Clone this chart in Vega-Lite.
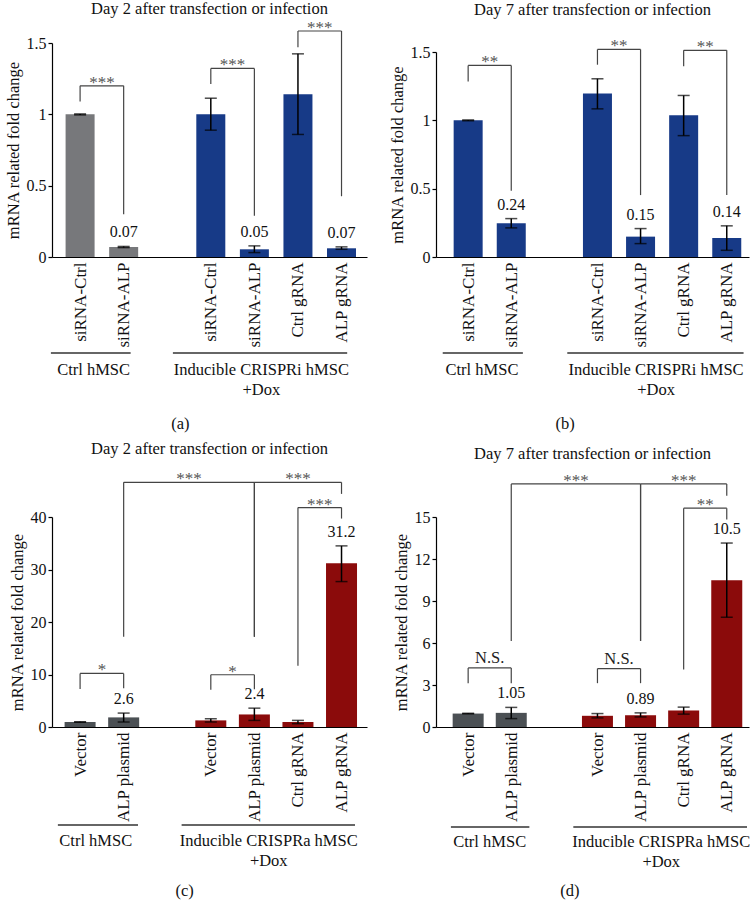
{
  "$schema": "https://vega.github.io/schema/vega-lite/v6.json",
  "padding": {"left": 5, "top": 0, "right": 0, "bottom": 0},
  "columns": 2,
  "spacing": {"row": 260, "column": 69},
  "bounds": "flush",
  "resolve": {"scale": {"color": "independent"}},
  "config": {
    "font": "Liberation Serif",
    "view": {"stroke": null},
    "axis": {"grid": false, "domainColor": "#000", "tickColor": "#000", "labelColor": "#111", "titleColor": "#111", "labelFont": "Liberation Serif", "titleFont": "Liberation Serif", "labelFontSize": 16, "titleFontSize": 16.5, "titleFontWeight": "normal", "domainWidth": 1.2, "tickWidth": 1.2},
    "title": {"font": "Liberation Serif", "fontSize": 16.5, "fontWeight": "normal", "color": "#111"},
    "text": {"font": "Liberation Serif"}
  },
  "datasets": {
    "bars_a": [
      {"slot": 1, "name": "siRNA-Ctrl", "cells": "Ctrl hMSC", "value": 1.0, "lo": 0.996, "hi": 1.003, "lab": ""},
      {"slot": 2, "name": "siRNA-ALP", "cells": "Ctrl hMSC", "value": 0.07, "lo": 0.066, "hi": 0.074, "lab": "0.07"},
      {"slot": 4, "name": "siRNA-Ctrl", "cells": "Inducible", "value": 1.0, "lo": 0.889, "hi": 1.113, "lab": ""},
      {"slot": 5, "name": "siRNA-ALP", "cells": "Inducible", "value": 0.054, "lo": 0.031, "hi": 0.078, "lab": "0.05"},
      {"slot": 6, "name": "Ctrl gRNA", "cells": "Inducible", "value": 1.141, "lo": 0.859, "hi": 1.424, "lab": ""},
      {"slot": 7, "name": "ALP gRNA", "cells": "Inducible", "value": 0.061, "lo": 0.054, "hi": 0.071, "lab": "0.07"}
    ],
    "br_a": [
      {"xa": 1, "xb": 2, "xm": 1.5, "top": 1.2, "lb": 1.09, "rb": 0.3, "sig": "***"},
      {"xa": 4, "xb": 5, "xm": 4.5, "top": 1.322, "lb": 1.212, "rb": 0.289, "sig": "***"},
      {"xa": 6, "xb": 7, "xm": 6.5, "top": 1.584, "lb": 1.47, "rb": 0.426, "sig": "***"}
    ],
    "grp_a": [
      {"x0": 0.33, "x1": 2.16, "xt": 1.31, "txt": "Ctrl hMSC"},
      {"x0": 3.13, "x1": 7.13, "xt": 5.16, "txt": "Inducible CRISPRi hMSC\n+Dox"}
    ],
    "bars_b": [
      {"slot": 1, "name": "siRNA-Ctrl", "cells": "Ctrl hMSC", "value": 1.0, "lo": 0.997, "hi": 1.003, "lab": ""},
      {"slot": 2, "name": "siRNA-ALP", "cells": "Ctrl hMSC", "value": 0.247, "lo": 0.213, "hi": 0.281, "lab": "0.24"},
      {"slot": 4, "name": "siRNA-Ctrl", "cells": "Inducible", "value": 1.196, "lo": 1.084, "hi": 1.304, "lab": ""},
      {"slot": 5, "name": "siRNA-ALP", "cells": "Inducible", "value": 0.149, "lo": 0.098, "hi": 0.208, "lab": "0.15"},
      {"slot": 6, "name": "Ctrl gRNA", "cells": "Inducible", "value": 1.037, "lo": 0.888, "hi": 1.182, "lab": ""},
      {"slot": 7, "name": "ALP gRNA", "cells": "Inducible", "value": 0.139, "lo": 0.049, "hi": 0.228, "lab": "0.14"}
    ],
    "br_b": [
      {"xa": 1, "xb": 2, "xm": 1.5, "top": 1.402, "lb": 1.285, "rb": 0.484, "sig": "**"},
      {"xa": 4, "xb": 5, "xm": 4.5, "top": 1.519, "lb": 1.407, "rb": 0.453, "sig": "**"},
      {"xa": 6, "xb": 7, "xm": 6.5, "top": 1.512, "lb": 1.395, "rb": 0.453, "sig": "**"}
    ],
    "grp_b": [
      {"x0": 0.41, "x1": 2.27, "xt": 1.32, "txt": "Ctrl hMSC"},
      {"x0": 3.3, "x1": 7.39, "xt": 5.36, "txt": "Inducible CRISPRi hMSC\n+Dox"}
    ],
    "bars_c": [
      {"slot": 1, "name": "Vector", "cells": "Ctrl hMSC", "value": 0.95, "lo": 0.9, "hi": 1.0, "lab": ""},
      {"slot": 2, "name": "ALP plasmid", "cells": "Ctrl hMSC", "value": 1.83, "lo": 0.95, "hi": 2.65, "lab": "2.6"},
      {"slot": 4, "name": "Vector", "cells": "Inducible", "value": 1.26, "lo": 0.95, "hi": 1.57, "lab": ""},
      {"slot": 5, "name": "ALP plasmid", "cells": "Inducible", "value": 2.39, "lo": 1.26, "hi": 3.59, "lab": "2.4"},
      {"slot": 6, "name": "Ctrl gRNA", "cells": "Inducible", "value": 0.94, "lo": 0.63, "hi": 1.26, "lab": ""},
      {"slot": 7, "name": "ALP gRNA", "cells": "Inducible", "value": 31.18, "lo": 27.7, "hi": 34.5, "lab": "31.2"}
    ],
    "br_c": [
      {"xa": 1, "xb": 2, "xm": 1.5, "top": 10.2, "lb": 7.24, "rb": 7.37, "sig": "*"},
      {"xa": 4, "xb": 5, "xm": 4.5, "top": 9.95, "lb": 7.1, "rb": 7.2, "sig": "*"},
      {"xa": 6, "xb": 7, "xm": 6.5, "top": 41.8, "lb": 11.65, "rb": 39.7, "sig": "***"},
      {"xa": 2, "xb": 5, "xm": 3.5, "top": 46.6, "lb": 17.2, "rb": 17.2, "sig": "***"},
      {"xa": 5, "xb": 7, "xm": 6, "top": 46.6, "lb": 17.2, "rb": 44.4, "sig": "***"}
    ],
    "grp_c": [
      {"x0": 0.49, "x1": 2.33, "xt": 1.36, "txt": "Ctrl hMSC"},
      {"x0": 3.33, "x1": 7.31, "xt": 5.33, "txt": "Inducible CRISPRa hMSC\n+Dox"}
    ],
    "bars_d": [
      {"slot": 1, "name": "Vector", "cells": "Ctrl hMSC", "value": 0.96, "lo": 0.94, "hi": 0.98, "lab": ""},
      {"slot": 2, "name": "ALP plasmid", "cells": "Ctrl hMSC", "value": 1.01, "lo": 0.6, "hi": 1.4, "lab": "1.05"},
      {"slot": 4, "name": "Vector", "cells": "Inducible", "value": 0.8, "lo": 0.65, "hi": 0.96, "lab": ""},
      {"slot": 5, "name": "ALP plasmid", "cells": "Inducible", "value": 0.84, "lo": 0.72, "hi": 1.01, "lab": "0.89"},
      {"slot": 6, "name": "Ctrl gRNA", "cells": "Inducible", "value": 1.18, "lo": 0.92, "hi": 1.42, "lab": ""},
      {"slot": 7, "name": "ALP gRNA", "cells": "Inducible", "value": 10.49, "lo": 7.84, "hi": 13.14, "lab": "10.5"}
    ],
    "br_d": [
      {"xa": 1, "xb": 2, "xm": 1.5, "top": 4.22, "lb": 3.13, "rb": 3.13, "sig": "N.S."},
      {"xa": 4, "xb": 5, "xm": 4.5, "top": 4.17, "lb": 3.13, "rb": 3.13, "sig": "N.S."},
      {"xa": 6, "xb": 7, "xm": 6.5, "top": 15.63, "lb": 4.1, "rb": 14.83, "sig": "**"},
      {"xa": 2, "xb": 5, "xm": 3.5, "top": 17.36, "lb": 6.15, "rb": 6.15, "sig": "***"},
      {"xa": 5, "xb": 7, "xm": 6, "top": 17.36, "lb": 6.15, "rb": 16.52, "sig": "***"}
    ],
    "grp_d": [
      {"x0": 0.6, "x1": 2.42, "xt": 1.5, "txt": "Ctrl hMSC"},
      {"x0": 3.44, "x1": 7.47, "xt": 5.48, "txt": "Inducible CRISPRa hMSC\n+Dox"}
    ]
  },
  "concat": [
    {
      "width": 315, "height": 214,
      "title": {"text": "Day 2 after transfection or infection", "offset": 2},
      "layer": [
        {"data": {"name": "bars_a"}, "mark": {"type": "bar", "size": 29},
         "encoding": {
           "x": {"field": "slot", "type": "quantitative", "scale": {"domain": [0.47, 7.47], "nice": false, "zero": false}, "axis": {"values": [1, 2, 4, 5, 6, 7], "labelExpr": "datum.value == 1 || datum.value == 4 ? 'siRNA-Ctrl' : datum.value == 2 || datum.value == 5 ? 'siRNA-ALP' : datum.value == 6 ? 'Ctrl gRNA' : 'ALP gRNA'", "labelAngle": 270, "labelFontSize": 17, "ticks": false, "title": null, "labelPadding": 5, "labelFlush": false, "labelOverlap": false}},
           "y": {"field": "value", "type": "quantitative", "scale": {"domain": [0, 1.5], "nice": false}, "axis": {"values": [0, 0.5, 1, 1.5], "format": "~g", "title": "mRNA related fold change", "tickSize": 4, "labelPadding": 2, "titlePadding": 5}},
           "color": {"field": "cells", "type": "nominal", "scale": {"domain": ["Ctrl hMSC", "Inducible"], "range": ["#77787b", "#173a87"]}, "legend": null}
         }},
        {"data": {"name": "bars_a"}, "mark": {"type": "rule", "color": "#000", "strokeWidth": 1.5},
         "encoding": {"x": {"field": "slot", "type": "quantitative"}, "y": {"field": "lo", "type": "quantitative"}, "y2": {"field": "hi"}}},
        {"data": {"name": "bars_a"}, "mark": {"type": "tick", "orient": "horizontal", "size": 12, "thickness": 1.5, "color": "#000"},
         "encoding": {"x": {"field": "slot", "type": "quantitative"}, "y": {"field": "lo", "type": "quantitative"}}},
        {"data": {"name": "bars_a"}, "mark": {"type": "tick", "orient": "horizontal", "size": 12, "thickness": 1.5, "color": "#000"},
         "encoding": {"x": {"field": "slot", "type": "quantitative"}, "y": {"field": "hi", "type": "quantitative"}}},
        {"data": {"name": "bars_a"}, "mark": {"type": "text", "baseline": "middle", "dy": -14, "fontSize": 16, "color": "#111"},
         "encoding": {"x": {"field": "slot", "type": "quantitative"}, "y": {"field": "hi", "type": "quantitative"}, "text": {"field": "lab"}}},
        {"data": {"name": "br_a"}, "mark": {"type": "rule", "color": "#444", "strokeWidth": 1.2},
         "encoding": {"x": {"field": "xa", "type": "quantitative"}, "x2": {"field": "xb"}, "y": {"field": "top", "type": "quantitative"}}},
        {"data": {"name": "br_a"}, "mark": {"type": "rule", "color": "#444", "strokeWidth": 1.2},
         "encoding": {"x": {"field": "xa", "type": "quantitative"}, "y": {"field": "top", "type": "quantitative"}, "y2": {"field": "lb"}}},
        {"data": {"name": "br_a"}, "mark": {"type": "rule", "color": "#444", "strokeWidth": 1.2},
         "encoding": {"x": {"field": "xb", "type": "quantitative"}, "y": {"field": "top", "type": "quantitative"}, "y2": {"field": "rb"}}},
        {"data": {"name": "br_a"}, "mark": {"type": "text", "baseline": "middle", "dy": -3, "fontSize": 17, "color": "#555"},
         "encoding": {"x": {"field": "xm", "type": "quantitative"}, "y": {"field": "top", "type": "quantitative"}, "text": {"field": "sig"}}},
        {"data": {"name": "grp_a"}, "mark": {"type": "rule", "color": "#333", "strokeWidth": 1.5, "yOffset": 96},
         "encoding": {"x": {"field": "x0", "type": "quantitative"}, "x2": {"field": "x1"}, "y": {"datum": 0}}},
        {"data": {"name": "grp_a"}, "mark": {"type": "text", "baseline": "top", "align": "center", "dy": 105, "fontSize": 16.5, "lineBreak": "\n", "lineHeight": 20, "color": "#111"},
         "encoding": {"x": {"field": "xt", "type": "quantitative"}, "y": {"datum": 0}, "text": {"field": "txt"}}},
        {"data": {"values": [{"x": 3.3, "txt": "(a)"}]}, "mark": {"type": "text", "baseline": "middle", "dy": 167, "fontSize": 16.5, "color": "#111"},
         "encoding": {"x": {"field": "x", "type": "quantitative"}, "y": {"datum": 0}, "text": {"field": "txt"}}}
      ]
    },
    {
      "width": 313, "height": 214,
      "title": {"text": "Day 7 after transfection or infection", "offset": 19},
      "layer": [
        {"data": {"name": "bars_b"}, "mark": {"type": "bar", "size": 29},
         "encoding": {
           "x": {"field": "slot", "type": "quantitative", "scale": {"domain": [0.37, 7.4], "nice": false, "zero": false}, "axis": {"values": [1, 2, 4, 5, 6, 7], "labelExpr": "datum.value == 1 || datum.value == 4 ? 'siRNA-Ctrl' : datum.value == 2 || datum.value == 5 ? 'siRNA-ALP' : datum.value == 6 ? 'Ctrl gRNA' : 'ALP gRNA'", "labelAngle": 270, "labelFontSize": 17, "ticks": false, "title": null, "labelPadding": 5, "labelFlush": false, "labelOverlap": false}},
           "y": {"field": "value", "type": "quantitative", "scale": {"domain": [0, 1.5], "nice": false, "range": [214, 9]}, "axis": {"values": [0, 0.5, 1, 1.5], "format": "~g", "title": "mRNA related fold change", "tickSize": 4, "labelPadding": 2, "titlePadding": 5}},
           "color": {"field": "cells", "type": "nominal", "scale": {"domain": ["Ctrl hMSC", "Inducible"], "range": ["#173a87", "#173a87"]}, "legend": null}
         }},
        {"data": {"name": "bars_b"}, "mark": {"type": "rule", "color": "#000", "strokeWidth": 1.5},
         "encoding": {"x": {"field": "slot", "type": "quantitative"}, "y": {"field": "lo", "type": "quantitative"}, "y2": {"field": "hi"}}},
        {"data": {"name": "bars_b"}, "mark": {"type": "tick", "orient": "horizontal", "size": 12, "thickness": 1.5, "color": "#000"},
         "encoding": {"x": {"field": "slot", "type": "quantitative"}, "y": {"field": "lo", "type": "quantitative"}}},
        {"data": {"name": "bars_b"}, "mark": {"type": "tick", "orient": "horizontal", "size": 12, "thickness": 1.5, "color": "#000"},
         "encoding": {"x": {"field": "slot", "type": "quantitative"}, "y": {"field": "hi", "type": "quantitative"}}},
        {"data": {"name": "bars_b"}, "mark": {"type": "text", "baseline": "middle", "dy": -14, "fontSize": 16, "color": "#111"},
         "encoding": {"x": {"field": "slot", "type": "quantitative"}, "y": {"field": "hi", "type": "quantitative"}, "text": {"field": "lab"}}},
        {"data": {"name": "br_b"}, "mark": {"type": "rule", "color": "#444", "strokeWidth": 1.2},
         "encoding": {"x": {"field": "xa", "type": "quantitative"}, "x2": {"field": "xb"}, "y": {"field": "top", "type": "quantitative"}}},
        {"data": {"name": "br_b"}, "mark": {"type": "rule", "color": "#444", "strokeWidth": 1.2},
         "encoding": {"x": {"field": "xa", "type": "quantitative"}, "y": {"field": "top", "type": "quantitative"}, "y2": {"field": "lb"}}},
        {"data": {"name": "br_b"}, "mark": {"type": "rule", "color": "#444", "strokeWidth": 1.2},
         "encoding": {"x": {"field": "xb", "type": "quantitative"}, "y": {"field": "top", "type": "quantitative"}, "y2": {"field": "rb"}}},
        {"data": {"name": "br_b"}, "mark": {"type": "text", "baseline": "middle", "dy": -3, "fontSize": 17, "color": "#555"},
         "encoding": {"x": {"field": "xm", "type": "quantitative"}, "y": {"field": "top", "type": "quantitative"}, "text": {"field": "sig"}}},
        {"data": {"name": "grp_b"}, "mark": {"type": "rule", "color": "#333", "strokeWidth": 1.5, "yOffset": 96},
         "encoding": {"x": {"field": "x0", "type": "quantitative"}, "x2": {"field": "x1"}, "y": {"datum": 0}}},
        {"data": {"name": "grp_b"}, "mark": {"type": "text", "baseline": "top", "align": "center", "dy": 105, "fontSize": 16.5, "lineBreak": "\n", "lineHeight": 20, "color": "#111"},
         "encoding": {"x": {"field": "xt", "type": "quantitative"}, "y": {"datum": 0}, "text": {"field": "txt"}}},
        {"data": {"values": [{"x": 3.25, "txt": "(b)"}]}, "mark": {"type": "text", "baseline": "middle", "dy": 167, "fontSize": 16.5, "color": "#111"},
         "encoding": {"x": {"field": "x", "type": "quantitative"}, "y": {"datum": 0}, "text": {"field": "txt"}}}
      ]
    },
    {
      "width": 315, "height": 210,
      "title": {"text": "Day 2 after transfection or infection", "offset": 13},
      "layer": [
        {"data": {"name": "bars_c"}, "mark": {"type": "bar", "size": 31},
         "encoding": {
           "x": {"field": "slot", "type": "quantitative", "scale": {"domain": [0.47, 7.47], "nice": false, "zero": false}, "axis": {"values": [1, 2, 4, 5, 6, 7], "labelExpr": "datum.value == 1 || datum.value == 4 ? 'Vector' : datum.value == 2 || datum.value == 5 ? 'ALP plasmid' : datum.value == 6 ? 'Ctrl gRNA' : 'ALP gRNA'", "labelAngle": 270, "labelFontSize": 17, "ticks": false, "title": null, "labelPadding": 5, "labelFlush": false, "labelOverlap": false}},
           "y": {"field": "value", "type": "quantitative", "scale": {"domain": [0, 40], "nice": false}, "axis": {"values": [0, 5, 10, 15, 20, 25, 30, 35, 40], "title": "mRNA related fold change", "tickSize": 4, "labelPadding": 2, "titlePadding": 5}},
           "color": {"field": "cells", "type": "nominal", "scale": {"domain": ["Ctrl hMSC", "Inducible"], "range": ["#4b5054", "#8b0b0b"]}, "legend": null}
         }},
        {"data": {"name": "bars_c"}, "mark": {"type": "rule", "color": "#000", "strokeWidth": 1.5},
         "encoding": {"x": {"field": "slot", "type": "quantitative"}, "y": {"field": "lo", "type": "quantitative"}, "y2": {"field": "hi"}}},
        {"data": {"name": "bars_c"}, "mark": {"type": "tick", "orient": "horizontal", "size": 12, "thickness": 1.5, "color": "#000"},
         "encoding": {"x": {"field": "slot", "type": "quantitative"}, "y": {"field": "lo", "type": "quantitative"}}},
        {"data": {"name": "bars_c"}, "mark": {"type": "tick", "orient": "horizontal", "size": 12, "thickness": 1.5, "color": "#000"},
         "encoding": {"x": {"field": "slot", "type": "quantitative"}, "y": {"field": "hi", "type": "quantitative"}}},
        {"data": {"name": "bars_c"}, "mark": {"type": "text", "baseline": "middle", "dy": -14, "fontSize": 16, "color": "#111"},
         "encoding": {"x": {"field": "slot", "type": "quantitative"}, "y": {"field": "hi", "type": "quantitative"}, "text": {"field": "lab"}}},
        {"data": {"name": "br_c"}, "mark": {"type": "rule", "color": "#444", "strokeWidth": 1.2},
         "encoding": {"x": {"field": "xa", "type": "quantitative"}, "x2": {"field": "xb"}, "y": {"field": "top", "type": "quantitative"}}},
        {"data": {"name": "br_c"}, "mark": {"type": "rule", "color": "#444", "strokeWidth": 1.2},
         "encoding": {"x": {"field": "xa", "type": "quantitative"}, "y": {"field": "top", "type": "quantitative"}, "y2": {"field": "lb"}}},
        {"data": {"name": "br_c"}, "mark": {"type": "rule", "color": "#444", "strokeWidth": 1.2},
         "encoding": {"x": {"field": "xb", "type": "quantitative"}, "y": {"field": "top", "type": "quantitative"}, "y2": {"field": "rb"}}},
        {"data": {"name": "br_c"}, "mark": {"type": "text", "baseline": "middle", "dy": -3, "fontSize": 17, "color": "#555"},
         "encoding": {"x": {"field": "xm", "type": "quantitative"}, "y": {"field": "top", "type": "quantitative"}, "text": {"field": "sig"}}},
        {"data": {"name": "grp_c"}, "mark": {"type": "rule", "color": "#333", "strokeWidth": 1.5, "yOffset": 98},
         "encoding": {"x": {"field": "x0", "type": "quantitative"}, "x2": {"field": "x1"}, "y": {"datum": 0}}},
        {"data": {"name": "grp_c"}, "mark": {"type": "text", "baseline": "top", "align": "center", "dy": 106, "fontSize": 16.5, "lineBreak": "\n", "lineHeight": 20, "color": "#111"},
         "encoding": {"x": {"field": "xt", "type": "quantitative"}, "y": {"datum": 0}, "text": {"field": "txt"}}},
        {"data": {"values": [{"x": 3.4, "txt": "(c)"}]}, "mark": {"type": "text", "baseline": "middle", "dy": 164, "fontSize": 16.5, "color": "#111"},
         "encoding": {"x": {"field": "x", "type": "quantitative"}, "y": {"datum": 0}, "text": {"field": "txt"}}}
      ]
    },
    {
      "width": 313, "height": 210,
      "title": {"text": "Day 7 after transfection or infection", "offset": 9},
      "layer": [
        {"data": {"name": "bars_d"}, "mark": {"type": "bar", "size": 31},
         "encoding": {
           "x": {"field": "slot", "type": "quantitative", "scale": {"domain": [0.37, 7.4], "nice": false, "zero": false}, "axis": {"values": [1, 2, 4, 5, 6, 7], "labelExpr": "datum.value == 1 || datum.value == 4 ? 'Vector' : datum.value == 2 || datum.value == 5 ? 'ALP plasmid' : datum.value == 6 ? 'Ctrl gRNA' : 'ALP gRNA'", "labelAngle": 270, "labelFontSize": 17, "ticks": false, "title": null, "labelPadding": 5, "labelFlush": false, "labelOverlap": false}},
           "y": {"field": "value", "type": "quantitative", "scale": {"domain": [0, 15], "nice": false}, "axis": {"values": [0, 3, 6, 9, 12, 15], "title": "mRNA related fold change", "tickSize": 4, "labelPadding": 2, "titlePadding": 5}},
           "color": {"field": "cells", "type": "nominal", "scale": {"domain": ["Ctrl hMSC", "Inducible"], "range": ["#4b5054", "#8b0b0b"]}, "legend": null}
         }},
        {"data": {"name": "bars_d"}, "mark": {"type": "rule", "color": "#000", "strokeWidth": 1.5},
         "encoding": {"x": {"field": "slot", "type": "quantitative"}, "y": {"field": "lo", "type": "quantitative"}, "y2": {"field": "hi"}}},
        {"data": {"name": "bars_d"}, "mark": {"type": "tick", "orient": "horizontal", "size": 12, "thickness": 1.5, "color": "#000"},
         "encoding": {"x": {"field": "slot", "type": "quantitative"}, "y": {"field": "lo", "type": "quantitative"}}},
        {"data": {"name": "bars_d"}, "mark": {"type": "tick", "orient": "horizontal", "size": 12, "thickness": 1.5, "color": "#000"},
         "encoding": {"x": {"field": "slot", "type": "quantitative"}, "y": {"field": "hi", "type": "quantitative"}}},
        {"data": {"name": "bars_d"}, "mark": {"type": "text", "baseline": "middle", "dy": -14, "fontSize": 16, "color": "#111"},
         "encoding": {"x": {"field": "slot", "type": "quantitative"}, "y": {"field": "hi", "type": "quantitative"}, "text": {"field": "lab"}}},
        {"data": {"name": "br_d"}, "mark": {"type": "rule", "color": "#444", "strokeWidth": 1.2},
         "encoding": {"x": {"field": "xa", "type": "quantitative"}, "x2": {"field": "xb"}, "y": {"field": "top", "type": "quantitative"}}},
        {"data": {"name": "br_d"}, "mark": {"type": "rule", "color": "#444", "strokeWidth": 1.2},
         "encoding": {"x": {"field": "xa", "type": "quantitative"}, "y": {"field": "top", "type": "quantitative"}, "y2": {"field": "lb"}}},
        {"data": {"name": "br_d"}, "mark": {"type": "rule", "color": "#444", "strokeWidth": 1.2},
         "encoding": {"x": {"field": "xb", "type": "quantitative"}, "y": {"field": "top", "type": "quantitative"}, "y2": {"field": "rb"}}},
        {"data": {"name": "br_d"}, "transform": [{"filter": "datum.sig != 'N.S.'"}], "mark": {"type": "text", "baseline": "middle", "dy": -3, "fontSize": 17, "color": "#555"},
         "encoding": {"x": {"field": "xm", "type": "quantitative"}, "y": {"field": "top", "type": "quantitative"}, "text": {"field": "sig"}}},
        {"data": {"name": "br_d"}, "transform": [{"filter": "datum.sig == 'N.S.'"}], "mark": {"type": "text", "baseline": "middle", "dy": -10, "fontSize": 16.5, "color": "#222"},
         "encoding": {"x": {"field": "xm", "type": "quantitative"}, "y": {"field": "top", "type": "quantitative"}, "text": {"field": "sig"}}},
        {"data": {"name": "grp_d"}, "mark": {"type": "rule", "color": "#333", "strokeWidth": 1.5, "yOffset": 100},
         "encoding": {"x": {"field": "x0", "type": "quantitative"}, "x2": {"field": "x1"}, "y": {"datum": 0}}},
        {"data": {"name": "grp_d"}, "mark": {"type": "text", "baseline": "top", "align": "center", "dy": 107, "fontSize": 16.5, "lineBreak": "\n", "lineHeight": 20, "color": "#111"},
         "encoding": {"x": {"field": "xt", "type": "quantitative"}, "y": {"datum": 0}, "text": {"field": "txt"}}},
        {"data": {"values": [{"x": 3.36, "txt": "(d)"}]}, "mark": {"type": "text", "baseline": "middle", "dy": 164, "fontSize": 16.5, "color": "#111"},
         "encoding": {"x": {"field": "x", "type": "quantitative"}, "y": {"datum": 0}, "text": {"field": "txt"}}}
      ]
    }
  ]
}
